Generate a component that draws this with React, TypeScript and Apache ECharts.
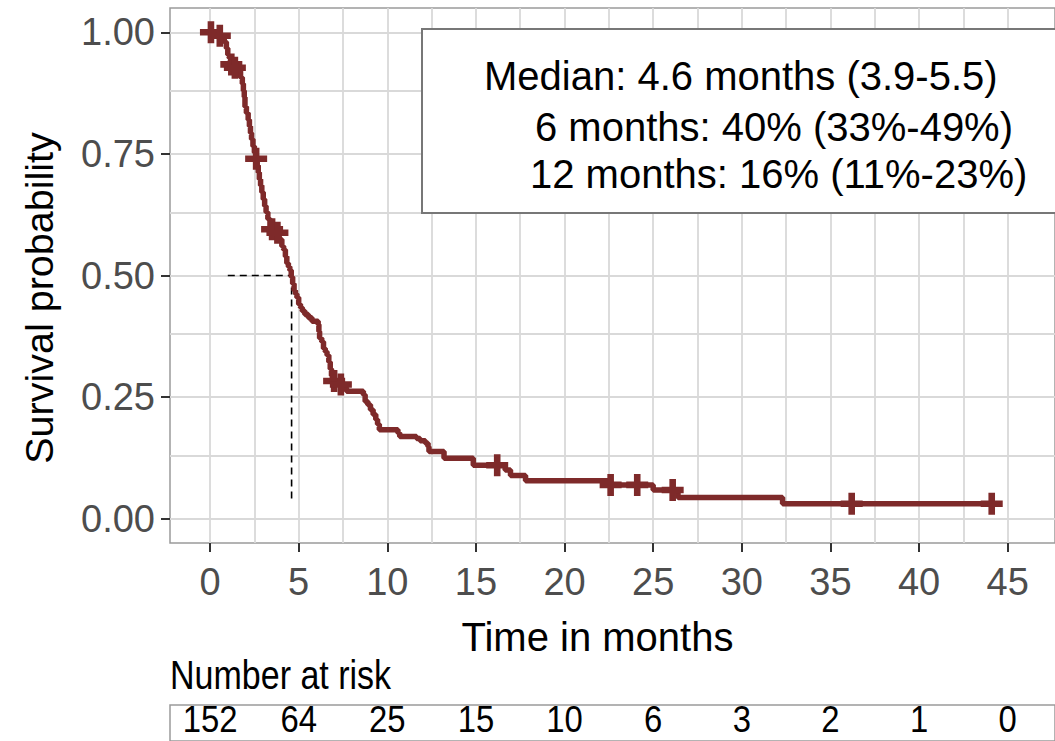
import { useEffect, useRef } from 'react';
import * as echarts from 'echarts';

// Kaplan-Meier steps: [time in months, survival probability after the drop]
const kmTimes = [
  0, 0.45, 0.7, 0.8, 0.92, 1.0, 1.08, 1.15, 1.3, 1.55, 1.72, 1.82, 1.88, 1.93, 1.97,
  2.05, 2.15, 2.22, 2.28, 2.34, 2.42, 2.5, 2.58, 2.66, 2.72, 2.78, 2.85, 2.92, 3.0,
  3.08, 3.16, 3.26, 3.38, 3.45, 3.62, 3.9, 4.05, 4.15, 4.25, 4.33, 4.42, 4.5, 4.58,
  4.66, 4.74, 4.82, 4.9, 5.0, 5.1, 5.2, 5.35, 5.55, 5.75, 6.1, 6.14, 6.18, 6.3, 6.4,
  6.5, 6.6, 6.7, 6.78, 6.85, 6.9, 7.3, 7.55, 7.7, 8.65, 8.75, 8.9, 9.05, 9.2, 9.35,
  9.45, 9.55, 10.6, 10.7, 11.65, 11.85, 12.15, 12.3, 12.35, 13.2, 14.85, 16.65,
  16.95, 17.8, 22.45, 25.0, 26.4, 32.3, 44.1,
];
const kmSurv = [
  1.0, 0.993, 0.987, 0.98, 0.967, 0.954, 0.947, 0.934, 0.927, 0.92, 0.907, 0.894, 0.88,
  0.867, 0.847, 0.834, 0.82, 0.807, 0.793, 0.78, 0.766, 0.753, 0.74, 0.726, 0.712,
  0.698, 0.685, 0.671, 0.657, 0.643, 0.63, 0.616, 0.602, 0.595, 0.588, 0.574, 0.56,
  0.553, 0.539, 0.525, 0.518, 0.511, 0.497, 0.483, 0.469, 0.462, 0.455, 0.441, 0.434,
  0.427, 0.42, 0.413, 0.406, 0.399, 0.385, 0.371, 0.364, 0.35, 0.343, 0.336, 0.322,
  0.308, 0.294, 0.283, 0.276, 0.269, 0.262, 0.255, 0.241, 0.234, 0.224, 0.214, 0.204,
  0.194, 0.183, 0.176, 0.169, 0.165, 0.16, 0.155, 0.148, 0.138, 0.124, 0.11, 0.1,
  0.089, 0.078, 0.0695, 0.059, 0.0434, 0.0306, 0.0306,
];

// censored observations
const censorTimes = [0.05, 0.55, 1.2, 1.4, 2.6, 3.5, 3.8, 7.0, 7.38, 16.2, 22.6, 24.1, 26.1, 36.2, 44.1];
const censorSurv = [1.0, 0.993, 0.934, 0.927, 0.74, 0.595, 0.588, 0.283, 0.276, 0.11, 0.0695, 0.0695, 0.059, 0.0306, 0.0306];

// median reference lines
const medianTime = 4.6;
const medianLineFrom = 1.0;
const medianLineBottom = 0.035;

// axes
const xTicks = [0, 5, 10, 15, 20, 25, 30, 35, 40, 45];
const yTicks = [0, 0.25, 0.5, 0.75, 1.0];
const xGridLines = [0, 2.5, 5, 7.5, 10, 12.5, 15, 17.5, 20, 22.5, 25, 27.5, 30, 32.5, 35, 37.5, 40, 42.5, 45];
const yGridLines = [0, 0.125, 0.25, 0.375, 0.5, 0.625, 0.75, 0.875, 1.0];
const xMin = -2.26;
const xMax = 47.67;
const yMin = -0.05;
const yMax = 1.05;

// number at risk
const riskTimes = [0, 5, 10, 15, 20, 25, 30, 35, 40, 45];
const riskCounts = [152, 64, 25, 15, 10, 6, 3, 2, 1, 0];

const legendLines = [
  'Median: 4.6 months (3.9-5.5)',
  '6 months: 40% (33%-49%)',
  '12 months: 16% (11%-23%)',
];

const CURVE = '#7e2a2a';
const FONT = "'Liberation Sans', Arial, sans-serif";
const PLUS = 'path://M7,0H13V7H20V13H13V20H7V13H0V7H7Z';

export default function App() {
  const ref = useRef<HTMLDivElement>(null);

  useEffect(() => {
    const chart = echarts.init(ref.current!, null, { renderer: 'svg' });
    const kmData = kmTimes.map((t, i) => [t, kmSurv[i]]);
    const censorData = censorTimes.map((t, i) => [t, censorSurv[i]]);

    const staticGraphics: any[] = [
      {
        type: 'rect',
        z: 20,
        shape: { x: 422, y: 29, width: 700, height: 184 },
        style: { fill: '#ffffff', stroke: '#777777', lineWidth: 2 },
      },
      {
        type: 'text',
        z: 21,
        x: 484,
        y: 76,
        style: { text: legendLines[0], fontSize: 40, fontFamily: FONT, fill: '#000', textVerticalAlign: 'middle' },
      },
      {
        type: 'text',
        z: 21,
        x: 535,
        y: 127,
        style: { text: legendLines[1], fontSize: 40, fontFamily: FONT, fill: '#000', textVerticalAlign: 'middle' },
      },
      {
        type: 'text',
        z: 21,
        x: 530,
        y: 174,
        style: { text: legendLines[2], fontSize: 40, fontFamily: FONT, fill: '#000', textVerticalAlign: 'middle' },
      },
      {
        type: 'text',
        x: 597.5,
        y: 637,
        style: { text: 'Time in months', fontSize: 40, fontFamily: FONT, fill: '#000', textAlign: 'center', textVerticalAlign: 'middle' },
      },
      {
        type: 'text',
        x: 38.5,
        y: 298,
        rotation: Math.PI / 2,
        style: { text: 'Survival probability', fontSize: 39.5, fontFamily: FONT, fill: '#000', textAlign: 'center', textVerticalAlign: 'middle' },
      },
      {
        type: 'text',
        x: 170,
        y: 675,
        scaleX: 0.84,
        style: { text: 'Number at risk', fontSize: 40.5, fontFamily: FONT, fill: '#000', textVerticalAlign: 'middle' },
      },
    ];

    const option: any = {
      animation: false,
      backgroundColor: '#ffffff',
      grid: [
        {
          left: 170,
          right: -3,
          top: 8,
          bottom: 198,
          show: true,
          backgroundColor: 'transparent',
          borderColor: '#9a9a9a',
          borderWidth: 1.5,
        },
        {
          left: 170,
          right: -3,
          top: 705,
          height: 42,
          show: true,
          backgroundColor: 'transparent',
          borderColor: '#9a9a9a',
          borderWidth: 1.5,
        },
      ],
      xAxis: [
        {
          type: 'value',
          gridIndex: 0,
          min: xMin,
          max: xMax,
          axisLine: { show: false, onZero: false },
          splitLine: { show: false },
          axisTick: {
            show: true,
            customValues: xTicks,
            length: 9,
            lineStyle: { color: '#333333', width: 2 },
          },
          axisLabel: {
            show: true,
            customValues: xTicks,
            margin: 20,
            fontSize: 38,
            fontFamily: FONT,
            color: '#4d4d4d',
            formatter: (v: number) => String(v),
          },
        },
        {
          type: 'value',
          gridIndex: 1,
          min: xMin,
          max: xMax,
          show: false,
        },
      ],
      yAxis: [
        {
          type: 'value',
          gridIndex: 0,
          min: yMin,
          max: yMax,
          axisLine: { show: false, onZero: false },
          splitLine: { show: false },
          axisTick: {
            show: true,
            customValues: yTicks,
            length: 9,
            lineStyle: { color: '#333333', width: 2 },
          },
          axisLabel: {
            show: true,
            customValues: yTicks,
            margin: 15,
            fontSize: 38,
            fontFamily: FONT,
            color: '#4d4d4d',
            formatter: (v: number) => v.toFixed(2),
          },
        },
        {
          type: 'value',
          gridIndex: 1,
          min: 0,
          max: 1,
          show: false,
        },
      ],
      series: [
        {
          type: 'line',
          xAxisIndex: 0,
          yAxisIndex: 0,
          data: [],
          z: 0,
          silent: true,
          markLine: {
            silent: true,
            symbol: 'none',
            label: { show: false },
            lineStyle: { color: '#d9d9d9', width: 1.8, type: 'solid' },
            data: [
              ...xGridLines.map((v) => ({ xAxis: v })),
              ...yGridLines.map((v) => ({ yAxis: v })),
            ],
          },
        },
        {
          type: 'line',
          z: 5,
          silent: true,
          showSymbol: false,
          lineStyle: { color: '#000000', width: 1.6, type: [7, 5] },
          data: [
            [medianLineFrom, 0.5],
            [medianTime, 0.5],
          ],
        },
        {
          type: 'line',
          z: 5,
          silent: true,
          showSymbol: false,
          lineStyle: { color: '#000000', width: 1.6, type: [7, 5] },
          data: [
            [medianTime, 0.5],
            [medianTime, medianLineBottom],
          ],
        },
        {
          type: 'line',
          z: 6,
          step: 'end',
          showSymbol: false,
          lineStyle: { color: CURVE, width: 5.5 },
          data: kmData,
        },
        {
          type: 'scatter',
          z: 7,
          symbol: PLUS,
          symbolSize: 22,
          itemStyle: { color: CURVE, opacity: 1 },
          data: censorData,
        },
      ],
      graphic: staticGraphics,
    };

    chart.setOption(option);

    // number-at-risk values placed with the risk table's own x scale
    const riskGraphics = riskTimes.map((t, i) => {
      const [px, py] = chart.convertToPixel({ gridIndex: 1 }, [t, 0.5]) as number[];
      return {
        type: 'text',
        x: px,
        y: py - 3.5,
        scaleX: 0.9,
        style: {
          text: String(riskCounts[i]),
          fontSize: 36.5,
          fontFamily: FONT,
          fill: '#000',
          textAlign: 'center',
          textVerticalAlign: 'middle',
        },
      };
    });
    chart.setOption({ graphic: [...staticGraphics, ...riskGraphics] });

    return () => chart.dispose();
  }, []);

  return (
    <div
      ref={ref}
      style={{ position: 'fixed', left: 0, top: 0, width: 1055, height: 741, background: '#ffffff' }}
    />
  );
}
